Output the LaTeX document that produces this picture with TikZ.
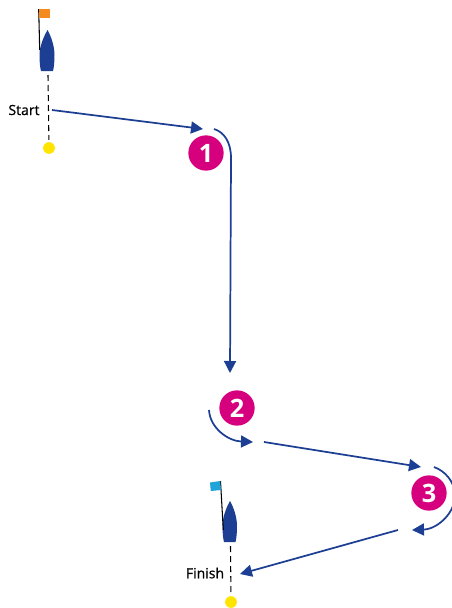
\documentclass[tikz,border=0pt]{standalone}
\usepackage{fontspec}
\setmainfont{Open Sans}
\usetikzlibrary{arrows.meta}
\definecolor{course}{HTML}{1C3F94}
\definecolor{badge}{HTML}{D6007F}
\definecolor{buoy}{HTML}{FFE400}
\definecolor{startflag}{HTML}{F58A1F}
\definecolor{finishflag}{HTML}{1FA3D9}
\tikzset{>={Triangle[length=9pt,width=9pt]}}
\tikzset{leg/.style={->,draw=course,fill=course,line width=1.3pt}}
\tikzset{markno/.style={
  circle,fill=badge,text=white,
  inner sep=0pt,minimum size=26.5pt,
  font=\fontsize{19}{19}\selectfont\bfseries}}
\tikzset{buoymark/.style={circle,fill=buoy,inner sep=0pt,minimum size=8.8pt}}
\tikzset{linelabel/.style={inner sep=0pt,font=\fontsize{10.5}{10.5}\selectfont\addfontfeature{FakeBold=0.8}}}
\tikzset{lineend/.style={draw,dash pattern=on 4.5pt off 3pt,line width=.8pt}}
\tikzset{hull/.style={fill=course}}
\tikzset{mast/.style={draw=black,line width=.8pt}}

\begin{document}
\begin{tikzpicture}[x={(.75pt,0pt)},y={(0pt,-.75pt)}]
  \useasboundingbox (0,0) rectangle (452,608);
  % boats
  \path[hull] (47.5,30) .. controls (51,36) and (54.5,46) .. (54.5,55)
    .. controls (54.5,62) and (54,67) .. (53,71) -- (41,71)
    .. controls (40,67) and (39.5,62) .. (39.5,55)
    .. controls (39.5,46) and (44,36) .. (47.5,30) -- cycle;
  \path[hull] (230,501) .. controls (233.5,507) and (237,517) .. (237,526)
    .. controls (237,533) and (236.5,538) .. (235.5,542) -- (224,542)
    .. controls (223,538) and (222.5,533) .. (222.5,526)
    .. controls (222.5,517) and (226.5,507) .. (230,501) -- cycle;
  \draw[mast] (38.7,9) -- (39.7,50);
  \draw[mast] (220.5,481) -- (223.3,530);
  \fill[startflag] (39,9) rectangle (50,18);
  \fill[finishflag] (210,482.5) -- (220.3,481) -- (220.8,490) -- (210.8,491) -- cycle;
  % marks
  \foreach \n/\p/\l in {
      markone/{(206,153)}/1,
      marktwo/{(237,408)}/2,
      markthree/{(429,493)}/3}
    \node[markno] (\n) at \p {\l};
  % start and finish lines
  \node[buoymark] (startbuoy) at (49,148) {};
  \node[buoymark] (finishbuoy) at (231,602) {};
  \coordinate (startstern) at (48,75);
  \coordinate (finishstern) at (230.5,546);
  \draw[lineend,shorten >=1.5pt] (startstern) -- (startbuoy);
  \draw[lineend,shorten >=1.5pt] (finishstern) -- (finishbuoy);
  \node[linelabel] (startlabel) at (24,110) {Start};
  \node[linelabel] (finishlabel) at (205,573) {Finish};
  % course
  \coordinate (a) at (52,110);
  \coordinate (b) at (203,129);
  \coordinate (c) at (214,129);
  \coordinate (d) at (231,158);
  \coordinate (e) at (230,373);
  \coordinate (f) at (209,410);
  \coordinate (g) at (253,442);
  \coordinate (h) at (264,442);
  \coordinate (i) at (421,467);
  \coordinate (j) at (434,467);
  \coordinate (k) at (412,530);
  \coordinate (l) at (398,530);
  \coordinate (q) at (240,574);
  \foreach \m/\n in {a/b,d/e,h/i,l/q}
    \draw[leg] (\m) -- (\n);
  \draw[draw=course,line width=1.3pt] (c) .. controls (224,132) and (231,142) .. (d);
  \draw[->,draw=course,line width=1.3pt] (f) .. controls (210,428) and (228,441) .. (g);
  \draw[->,draw=course,line width=1.3pt] (j) .. controls (445,471) and (454,481) .. (455,494)
    .. controls (456,512) and (438,529) .. (k);
\end{tikzpicture}
\end{document}
